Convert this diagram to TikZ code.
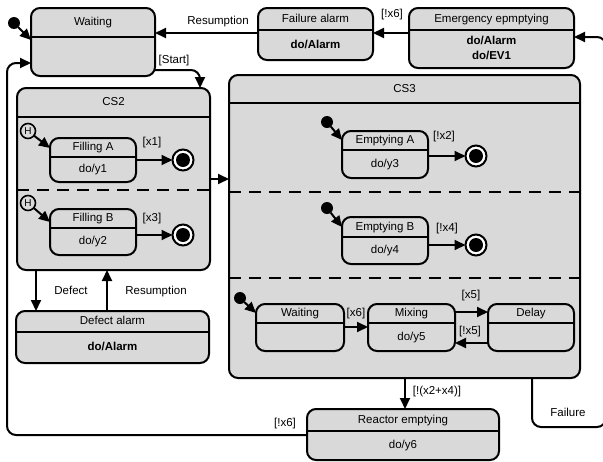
\documentclass[tikz,border=0pt]{standalone}
\usepackage{fontspec}
\setmainfont{Liberation Sans}
\usetikzlibrary{arrows.meta,calc}
\definecolor{stfill}{RGB}{217,217,217}
% #1 name, #2 x1, #3 y1, #4 x2, #5 y2, #6 divider y, #7 title, #8 body
\newcommand\stbox[8]{%
  \node[stbox, minimum width={(#4-#2)*1pt}, minimum height={(#5-#3)*1pt}] (#1) at ({(#2+#4)/2},{(#3+#5)/2}) {};
  \draw[divline] (#2,#6) -- (#4,#6);
  \node[txt] (#1-t) at ({(#2+#4)/2},{(#3+#6)/2}) {#7};
  \node[txt] (#1-b) at ({(#2+#4)/2},{(#6+#5)/2}) {#8};
}
\newcommand\finstate[3]{%
  \node[finout] (#1) at (#2,#3) {};
  \node[fininn] (#1-c) at (#2,#3) {};
}
\begin{document}
\begin{tikzpicture}[x=1pt,y=-1pt,
  font=\fontsize{11.5}{14}\selectfont,
  stbox/.style={draw, line width=2pt, fill=stfill, rounded corners=9pt, inner sep=0pt, outer sep=0pt},
  divline/.style={line width=2pt},
  dashline/.style={line width=2pt, dash pattern=on 12pt off 8pt},
  txt/.style={inner sep=0pt, text height=8.5pt, text depth=2.5pt},
  lbl/.style={inner sep=0pt, text height=8.5pt, text depth=2.5pt},
  conn/.style={line width=2pt, -{Triangle[length=11pt,width=10pt]}, rounded corners=9pt},
  initdot/.style={circle, fill=black, minimum size=12pt, inner sep=0pt, outer sep=0pt},
  finout/.style={circle, draw, line width=2pt, fill=white, minimum size=21pt, inner sep=0pt, outer sep=0pt},
  fininn/.style={circle, fill=black, minimum size=14pt, inner sep=0pt},
  hist/.style={circle, draw, line width=1.6pt, fill=stfill, minimum size=15pt, inner sep=0pt, outer sep=0pt, font=\fontsize{10}{12}\selectfont}]
\useasboundingbox (0,0) rectangle (603,461);

% top row
\stbox{wait}{31}{8}{155}{76}{37}{Waiting}{}
\stbox{fail}{258}{8}{373}{60}{30}{Failure alarm}{\textbf{do/Alarm}}
\stbox{emer}{409}{8}{574}{68}{30}{Emergency epmptying}{}
\node[txt] (emer-b1) at (491.5,41) {\textbf{do/Alarm}};
\node[txt] (emer-b2) at (491.5,56) {\textbf{do/EV1}};
\node[initdot] (i0) at (14,23) {};

% CS2
\stbox{cs2}{17}{88}{210}{270}{117}{CS2}{}
\draw[dashline] (17,190) -- (210,190);
\stbox{fa}{50}{138}{136}{182}{157}{Filling A}{do/y1}
\stbox{fb}{50}{209}{136}{255}{228}{Filling B}{do/y2}
\node[hist] (h1) at (28,131) {H};
\node[hist] (h2) at (28,203) {H};
\finstate{f1}{183}{160}
\finstate{f2}{183}{235}

% CS3
\stbox{cs3}{229}{75}{580}{378}{103}{CS3}{}
\draw[dashline] (229,192) -- (580,192);
\draw[dashline] (229,278) -- (580,278);
\stbox{ea}{342}{131}{428}{178}{150}{Emptying A}{do/y3}
\stbox{eb}{342}{217}{428}{264}{237}{Emptying B}{do/y4}
\node[initdot] (i1) at (327,122) {};
\node[initdot] (i2) at (327,208) {};
\finstate{f3}{476}{156}
\finstate{f4}{476}{245}
\stbox{w2}{256}{304}{344}{351}{323}{Waiting}{}
\stbox{mix}{368}{304}{455}{351}{323}{Mixing}{do/y5}
\stbox{del}{488}{304}{574}{351}{323}{Delay}{}
\node[initdot] (i3) at (240,298) {};

% lower boxes
\stbox{defa}{16}{311}{209}{363}{332}{Defect alarm}{\textbf{do/Alarm}}
\stbox{reac}{307}{409}{499}{460}{431}{Reactor emptying}{do/y6}

% connectors
\coordinate (w-in) at (31,40);
\draw[conn] (i0) -- (w-in);
\draw[conn] (emer.west |- 0,33) -- (fail.east |- 0,33);
\draw[conn] (fail.west |- 0,33) -- (wait.east |- 0,33);
\draw[conn] (wait.east |- 0,70) -- (200,70) -- (cs2.north -| 200,0);
\draw[conn] (reac.west |- 0,435) -- (7,435) -- (7,63) -- (wait.west |- 0,63);
\draw[conn] (cs3.south -| 532,0) -- (532,427) -- (606,427) -- (606,37) -- (emer.east |- 0,37);
\draw[conn] (cs2.east |- 0,179) -- (cs3.west |- 0,179);
\draw[conn] (cs2.south -| 36,0) -- (defa.north -| 36,0);
\draw[conn] (defa.north -| 107,0) -- (cs2.south -| 107,0);
\draw[conn] (cs3.south -| 405,0) -- (reac.north -| 405,0);

\draw[conn] (h1) -- (fa.west |- 0,148);
\draw[conn] (h2) -- (fb.west |- 0,222);
\draw[conn] (fa.east |- 0,160) -- (f1);
\draw[conn] (fb.east |- 0,235) -- (f2);
\draw[conn] (i1) -- (ea.west |- 0,140);
\draw[conn] (i2) -- (eb.west |- 0,227);
\draw[conn] (ea.east |- 0,156) -- (f3);
\draw[conn] (eb.east |- 0,245) -- (f4);
\draw[conn] (i3) -- (w2.west |- 0,313);
\draw[conn] (w2.east |- 0,327) -- (mix.west |- 0,327);
\draw[conn] (mix.east |- 0,312) -- (del.west |- 0,312);
\draw[conn] (del.west |- 0,343) -- (mix.east |- 0,343);

% labels
\node[lbl] (l-res1) at (218,21) {Resumption};
\node[lbl] (l-nx6a) at (392,14) {[!x6]};
\node[lbl] (l-start) at (174,60) {[Start]};
\node[lbl] (l-x1) at (152,142) {[x1]};
\node[lbl] (l-x3) at (152,218) {[x3]};
\node[lbl] (l-nx2) at (444,136) {[!x2]};
\node[lbl] (l-nx4) at (447,228) {[!x4]};
\node[lbl] (l-x6) at (356,313) {[x6]};
\node[lbl] (l-x5) at (471,295) {[x5]};
\node[lbl] (l-nx5) at (470,331) {[!x5]};
\node[lbl] (l-nx24) at (437,391) {[!(x2+x4)]};
\node[lbl] (l-failure) at (568,413) {Failure};
\node[lbl] (l-nx6b) at (285,423) {[!x6]};
\node[lbl] (l-defect) at (71,291) {Defect};
\node[lbl] (l-res2) at (156,291) {Resumption};
\end{tikzpicture}
\end{document}
